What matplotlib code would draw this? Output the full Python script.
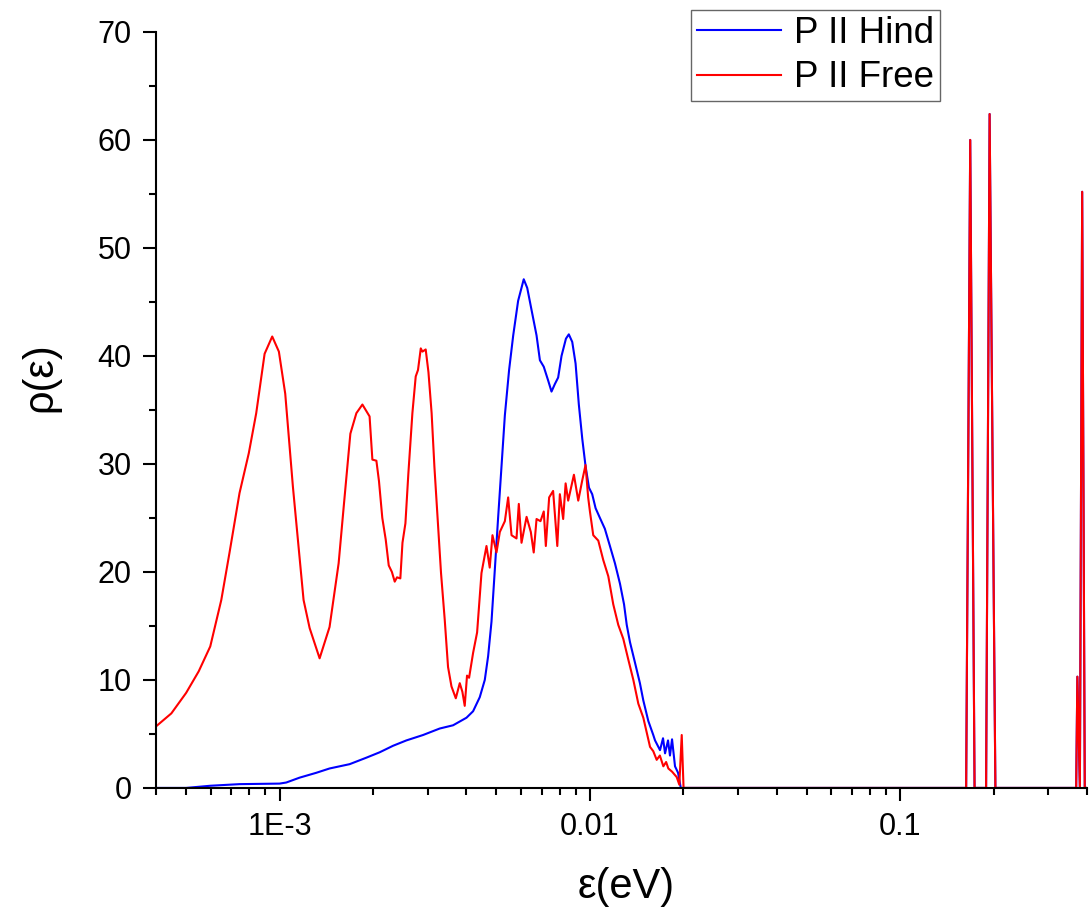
import numpy as np
from matplotlib import pyplot as plt
from matplotlib.ticker import LogLocator, MultipleLocator, NullFormatter

plt.rcParams['font.family'] = ['Liberation Sans', 'DejaVu Sans']

# energies (eV) and density of states
e_free = [4.0e-4, 4.48e-4, 5.0e-4, 5.49e-4, 5.98e-4, 6.49e-4, 6.9e-4, 7.43e-4, 7.96e-4, 8.41e-4,
          8.95e-4, 9.47e-4, 9.95e-4, 1.043e-3, 1.104e-3, 1.195e-3, 1.25e-3, 1.346e-3, 1.449e-3, 1.55e-3,
          1.609e-3, 1.691e-3, 1.768e-3, 1.849e-3, 1.95e-3, 1.991e-3, 2.051e-3, 2.091e-3, 2.143e-3, 2.198e-3,
          2.248e-3, 2.301e-3, 2.35e-3, 2.39e-3, 2.45e-3, 2.489e-3, 2.544e-3, 2.6e-3, 2.679e-3, 2.746e-3,
          2.793e-3, 2.851e-3, 2.886e-3, 2.957e-3, 3.018e-3, 3.09e-3, 3.155e-3, 3.313e-3, 3.405e-3, 3.49e-3,
          3.58e-3, 3.697e-3, 3.807e-3, 3.882e-3, 3.95e-3, 4.018e-3, 4.08e-3, 4.203e-3, 4.33e-3, 4.473e-3,
          4.642e-3, 4.755e-3, 4.853e-3, 5.0e-3, 5.125e-3, 5.32e-3, 5.452e-3, 5.59e-3, 5.8e-3, 5.9e-3,
          6.02e-3, 6.25e-3, 6.45e-3, 6.59e-3, 6.73e-3, 6.93e-3, 7.1e-3, 7.21e-3, 7.39e-3, 7.61e-3,
          7.85e-3, 8.0e-3, 8.2e-3, 8.35e-3, 8.51e-3, 8.88e-3, 9.17e-3, 9.45e-3, 9.68e-3, 9.87e-3,
          1.0e-2, 1.025e-2, 1.064e-2, 1.104e-2, 1.146e-2, 1.189e-2, 1.234e-2, 1.281e-2, 1.329e-2, 1.38e-2,
          1.432e-2, 1.486e-2, 1.562e-2, 1.6e-2, 1.641e-2, 1.68e-2, 1.724e-2, 1.76e-2, 1.789e-2, 1.84e-2,
          1.904e-2, 1.941e-2, 1.976e-2, 2.003e-2,
          0.163, 0.168, 0.1735, 0.189, 0.194, 0.2025, 0.3687, 0.372, 0.379, 0.3855, 0.393, 0.4]
rho_free = [5.7, 6.9, 8.8, 10.8, 13.1, 17.4, 21.8, 27.3, 31.0, 34.7,
            40.2, 41.8, 40.4, 36.5, 27.9, 17.4, 14.8, 12.0, 14.9, 20.8,
            26.0, 32.8, 34.7, 35.5, 34.4, 30.4, 30.3, 28.4, 25.0, 23.0,
            20.6, 20.0, 19.1, 19.5, 19.4, 22.7, 24.5, 29.1, 34.7, 38.1,
            38.7, 40.7, 40.4, 40.6, 38.5, 34.7, 29.7, 19.9, 15.6, 11.2,
            9.4, 8.3, 9.7, 8.9, 7.6, 10.4, 10.2, 12.5, 14.4, 19.9,
            22.4, 20.4, 23.4, 21.8, 23.7, 24.7, 26.9, 23.4, 23.1, 26.3,
            22.7, 25.1, 23.7, 21.8, 24.9, 24.7, 25.6, 22.4, 26.9, 27.5,
            22.4, 27.2, 24.9, 28.2, 26.6, 29.0, 26.6, 28.5, 29.9, 26.9,
            25.6, 23.4, 22.9, 21.1, 19.6, 17.0, 15.1, 13.8, 11.9, 10.0,
            7.8, 6.5, 3.8, 3.4, 2.6, 3.0, 2.0, 2.4, 1.8, 1.5,
            1.0, 0.3, 4.9, 0.0,
            0.0, 60.0, 0.0, 0.0, 62.4, 0.0, 0.0, 10.3, 0.0, 55.2, 0.0, 0.0]

e_hind = [4.0e-4, 5.0e-4, 5.98e-4, 7.43e-4, 1.0e-3, 1.051e-3, 1.16e-3, 1.313e-3, 1.449e-3, 1.682e-3,
          1.904e-3, 2.102e-3, 2.32e-3, 2.563e-3, 2.9e-3, 3.281e-3, 3.623e-3, 4.002e-3, 4.203e-3, 4.416e-3,
          4.584e-3, 4.699e-3, 4.818e-3, 4.938e-3, 5.06e-3, 5.19e-3, 5.32e-3, 5.49e-3, 5.66e-3, 5.87e-3,
          6.12e-3, 6.28e-3, 6.47e-3, 6.73e-3, 6.9e-3, 7.1e-3, 7.34e-3, 7.52e-3, 7.71e-3, 7.9e-3,
          8.1e-3, 8.37e-3, 8.55e-3, 8.77e-3, 8.99e-3, 9.21e-3, 9.45e-3, 9.68e-3, 9.93e-3, 1.017e-2,
          1.043e-2, 1.077e-2, 1.117e-2, 1.16e-2, 1.204e-2, 1.25e-2, 1.288e-2, 1.314e-2, 1.346e-2, 1.397e-2,
          1.449e-2, 1.486e-2, 1.542e-2, 1.6e-2, 1.621e-2, 1.682e-2, 1.72e-2, 1.746e-2, 1.785e-2, 1.811e-2,
          1.839e-2, 1.88e-2, 1.923e-2, 1.962e-2,
          0.163, 0.168, 0.1735, 0.189, 0.194, 0.2025, 0.3687, 0.372, 0.379, 0.3855, 0.393, 0.4]
rho_hind = [0.0, 0.0, 0.2, 0.35, 0.4, 0.5, 0.95, 1.4, 1.8, 2.2,
            2.8, 3.3, 3.9, 4.4, 4.9, 5.5, 5.8, 6.5, 7.1, 8.4,
            10.0, 12.2, 15.4, 20.2, 25.0, 29.8, 34.5, 38.7, 41.9, 45.1,
            47.1, 46.3, 44.4, 41.9, 39.6, 39.0, 37.7, 36.7, 37.4, 38.0,
            40.0, 41.6, 42.0, 41.3, 39.3, 35.5, 32.3, 29.8, 27.8, 27.2,
            25.9, 25.0, 24.0, 22.4, 20.8, 18.9, 17.0, 15.1, 13.5, 11.6,
            9.7, 8.1, 6.2, 4.9, 4.4, 3.5, 4.6, 3.2, 4.4, 3.0,
            4.5, 2.0, 1.4, 0.0,
            0.0, 60.0, 0.0, 0.0, 62.4, 0.0, 0.0, 10.3, 0.0, 55.2, 0.0, 0.0]

fig = plt.figure(figsize=(10.89, 9.13), dpi=100)
ax = fig.add_axes([0.1433, 0.137, 0.855, 0.828])

ax.plot(e_hind, rho_hind, color='#0000ff', lw=1.5, label='P II Hind')
ax.plot(e_free, rho_free, color='#ff0000', lw=1.5, label='P II Free')

ax.set_xscale('log')
ax.set_xlim(4e-4, 0.4)
ax.set_ylim(0, 70)

ax.set_xticks([1e-3, 1e-2, 1e-1])
ax.set_xticklabels(['1E-3', '0.01', '0.1'])
ax.xaxis.set_minor_locator(LogLocator(base=10, subs=np.arange(2, 10)))
ax.xaxis.set_minor_formatter(NullFormatter())
ax.yaxis.set_major_locator(MultipleLocator(10))
ax.yaxis.set_minor_locator(MultipleLocator(5))

ax.tick_params(which='major', length=9.5, width=1.5, labelsize=22, pad=8)
ax.tick_params(which='minor', length=5, width=1.5)
for s in ['top', 'right']:
    ax.spines[s].set_visible(False)
for s in ['left', 'bottom']:
    ax.spines[s].set_linewidth(1.5)

ax.set_xlabel('ε(eV)', fontsize=30)
ax.set_ylabel('ρ(ε)', fontsize=30)
ax.xaxis.set_label_coords(0.5048, -0.104)
ax.yaxis.set_label_coords(-0.103, 0.5437)

leg = ax.legend(loc='upper left', bbox_to_anchor=(691/1089, 1 - 10/913), bbox_transform=fig.transFigure,
                fontsize=26.5, frameon=True, fancybox=False, borderaxespad=0, borderpad=0.15,
                handlelength=2.3, handletextpad=0.36, labelspacing=0.27)
leg.get_frame().set_edgecolor('#404040')
leg.get_frame().set_linewidth(1.0)

plt.savefig('out.png', dpi=100)
